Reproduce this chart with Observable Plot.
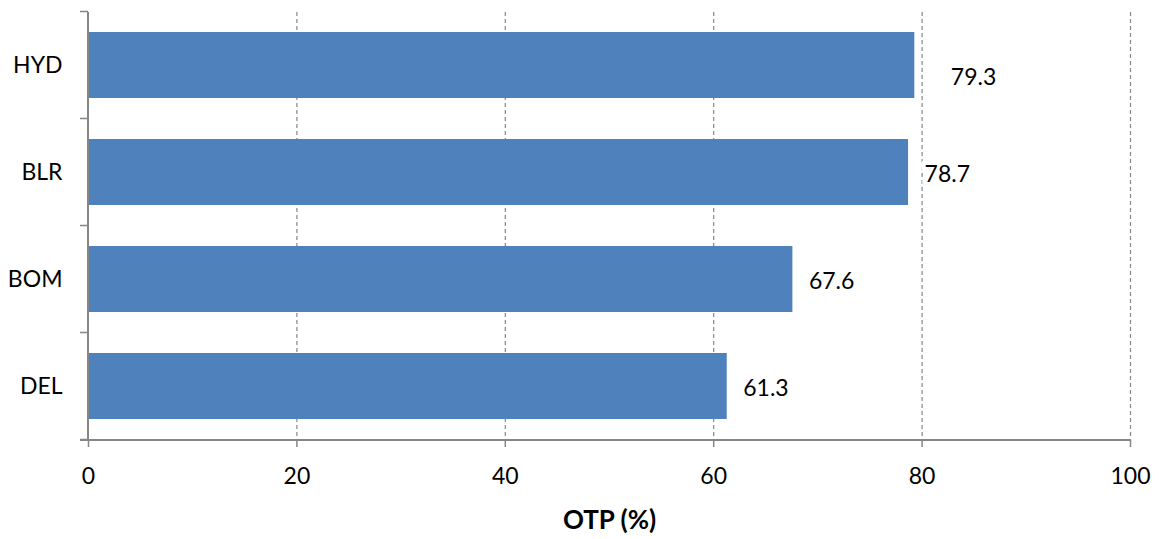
<!DOCTYPE html>
<html>
<head>
<meta charset="utf-8">
<script src="https://cdn.jsdelivr.net/npm/d3@7"></script>
<script src="https://cdn.jsdelivr.net/npm/@observablehq/plot@0.6"></script>
<style>
  html, body { margin: 0; padding: 0; background: #fff; }
  svg { font-family: Lato, "Open Sans", sans-serif; }
  g[aria-label="x-axis label"] text { font-weight: bold; font-size: 26px; }
</style>
</head>
<body>
<div id="chart"></div>
<script>
const airports = ["HYD", "BLR", "BOM", "DEL"];
const otp = [79.3, 78.7, 67.6, 61.3];
const xTicks = [0, 20, 40, 60, 80, 100];
const gridTicks = [20, 40, 60, 80, 100];

const data = airports.map((a, i) => ({airport: a, otp: otp[i]}));
const gray = "#868686";

// axis lines and tick marks at band boundaries for the y (category) axis
function frameAndBandTicks(index, scales, values, dims) {
  const sy = scales.y;
  const sx = scales.x;
  const dom = sy.domain();
  const step = sy.step ? sy.step() : scales.scales.y.step;
  const bw = sy.bandwidth ? sy.bandwidth() : scales.scales.y.bandwidth;
  const g = d3.create("svg:g");
  const top = dims.marginTop;
  const bottom = dims.height - dims.marginBottom;
  const x0 = sx(0);
  const xr = sx(100);
  const boundaries = dom.map(d => sy(d) + bw / 2 - step / 2);
  boundaries.push(sy(dom[dom.length - 1]) + bw / 2 + step / 2);
  for (const b of boundaries) {
    g.append("line").attr("x1", x0 - 8).attr("x2", x0).attr("y1", b).attr("y2", b)
      .attr("stroke", gray).attr("stroke-width", 1.5);
  }
  g.append("line").attr("x1", x0).attr("x2", x0).attr("y1", top).attr("y2", bottom)
    .attr("stroke", gray).attr("stroke-width", 2);
  g.append("line").attr("x1", x0 - 8).attr("x2", xr).attr("y1", bottom).attr("y2", bottom)
    .attr("stroke", gray).attr("stroke-width", 2);
  return g.node();
}

const chart = Plot.plot({
  width: 1159,
  height: 539,
  marginLeft: 88,
  marginRight: 29,
  marginTop: 12,
  marginBottom: 99,
  style: {fontSize: "23px", fontFamily: "Lato, 'Open Sans', sans-serif", color: "#000", background: "#fff"},
  x: {domain: [0, 100]},
  y: {domain: airports, paddingInner: 0.383, paddingOuter: 0.19},
  marks: [
    Plot.gridX(gridTicks, {stroke: gray, strokeOpacity: 1, strokeWidth: 1.2, strokeDasharray: "4,3"}),
    Plot.barX(data, {x: "otp", y: "airport", fill: "#4F81BD"}),
    Plot.text(data, {filter: d => d.airport !== "HYD", x: "otp", y: "airport", text: d => d.otp.toFixed(1),
      textAnchor: "start", dx: 16, dy: 2, fill: "#000", stroke: "#fff", strokeWidth: 10, fontSize: 23}),
    Plot.text(data, {filter: d => d.airport === "HYD", x: "otp", y: "airport", text: d => d.otp.toFixed(1),
      textAnchor: "start", dx: 36, dy: 12, fill: "#000", fontSize: 23}),
    Plot.axisY({tickSize: 0, tickPadding: 26, label: null, fontSize: 23}),
    Plot.axisX(xTicks, {tickSize: 7, tickPadding: 20, stroke: gray, strokeWidth: 1.5, fontSize: 23,
      label: "OTP (%)", labelAnchor: "center", labelArrow: "none", labelOffset: 88}),
    frameAndBandTicks
  ]
});
document.getElementById("chart").appendChild(chart);
</script>
</body>
</html>
